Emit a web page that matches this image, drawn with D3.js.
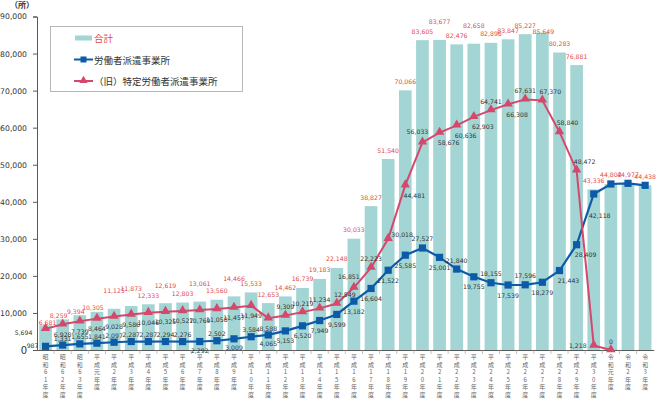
<!DOCTYPE html>
<html>
<head>
<meta charset="utf-8">
<script src="https://cdn.jsdelivr.net/npm/d3@7.9.0/dist/d3.min.js"></script>
<style>
  body { margin: 0; background: #fff; }
  svg { display: block; }
  .num { font-family: "DejaVu Sans", sans-serif; }
  .jp { font-family: "Noto Sans CJK JP", sans-serif; }
</style>
</head>
<body>
<div id="chart"></div>
<script>
const years = [
  '昭和61年度', '昭和62年度', '昭和63年度',
  '平成元年度', '平成2年度', '平成3年度', '平成4年度', '平成5年度', '平成6年度',
  '平成7年度', '平成8年度', '平成9年度', '平成10年度', '平成11年度', '平成12年度',
  '平成13年度', '平成14年度', '平成15年度', '平成16年度', '平成17年度', '平成18年度',
  '平成19年度', '平成20年度', '平成21年度', '平成22年度', '平成23年度', '平成24年度',
  '平成25年度', '平成26年度', '平成27年度', '平成28年度', '平成29年度', '平成30年度',
  '令和元年度', '令和2年度', '令和3年度'
];

// 合計
const totals = [
  6681, 8259, 9394, 10305, 11125, 11873, 12333, 12619, 12803, 13061, 13560, 14466,
  15533, 12653, 14462, 16739, 19183, 22148, 30033, 38827, 51540, 70066, 83605, 83677,
  82476, 82658, 82896, 83847, 85227, 85649, 80283, 76881, 43336, 44802, 44977, 44438
];

// 労働者派遣事業所
const haken = [
  987, 1331, 1655, 1841, 2097, 2287, 2287, 2294, 2276, 2292, 2502, 3009,
  3584, 4065, 5153, 6520, 7949, 9599, 13182, 16604, 21522, 25585, 27527, 25001,
  21840, 19755, 18155, 17539, 17596, 18279, 21443, 28409, 42118, 44802, 44977, 44438
];

// （旧）特定労働者派遣事業所
const tokutei = [
  5694, 6928, 7739, 8464, 9028, 9586, 10046, 10325, 10527, 10769, 11058, 11457,
  11949, 8588, 9309, 10219, 11234, 12549, 16851, 22223, 30018, 44481, 56033, 58676,
  60636, 62903, 64741, 66308, 67631, 67370, 58840, 48472, 1218, 0, null, null
];

const yTicks = [0, 10000, 20000, 30000, 40000, 50000, 60000, 70000, 80000, 90000];

const W = 660, H = 399;
const barColor = '#a2d5d4';
const blue = '#0d5ba8';
const pink = '#d4486c';
const red = '#e24a4a';
const ink = '#333';

const svg = d3.select('#chart').append('svg')
  .attr('width', W).attr('height', H);

const x = d3.scaleBand().domain(years).range([37, 653.7]).paddingInner(0.26).paddingOuter(0.13);
const y = d3.scaleLinear().domain([0, 90000]).range([350, 16.5]);
const cx = i => x(years[i]) + x.bandwidth() / 2;

// bars
svg.append('g').selectAll('rect')
  .data(totals)
  .join('rect')
  .attr('x', (d, i) => x(years[i]))
  .attr('y', d => y(d))
  .attr('width', x.bandwidth())
  .attr('height', d => y(0) - y(d))
  .attr('fill', barColor);

// y axis
const yAxis = svg.append('g')
  .attr('transform', 'translate(37,0)')
  .call(d3.axisLeft(y).tickValues(yTicks).tickSize(4).tickPadding(6).tickFormat(d3.format(',')));
yAxis.select('.domain').attr('stroke', '#595959');
yAxis.selectAll('.tick line').attr('stroke', '#595959');
yAxis.selectAll('.tick text')
  .attr('class', 'num')
  .attr('fill', ink)
  .style('font-size', d => d === 0 ? '10px' : '7.7px');

svg.append('text')
  .attr('class', 'jp')
  .attr('x', 22).attr('y', 8)
  .attr('text-anchor', 'middle')
  .attr('font-size', 8).attr('font-weight', 'bold').attr('fill', ink)
  .text('（所）');

// x axis
const xAxis = svg.append('g')
  .attr('transform', `translate(0,${y(0)})`)
  .call(d3.axisBottom(x).tickSize(0).tickFormat(''));
xAxis.select('.domain').attr('stroke', '#595959');

svg.append('g').selectAll('line')
  .data(years.slice(1))
  .join('line')
  .attr('x1', d => x(d) - x.step() * x.paddingInner() / 2)
  .attr('x2', d => x(d) - x.step() * x.paddingInner() / 2)
  .attr('y1', y(0)).attr('y2', y(0) + 4)
  .attr('stroke', '#999').attr('stroke-width', 0.6);

const xl = svg.append('g').selectAll('text')
  .data(years)
  .join('text')
  .attr('class', 'jp')
  .attr('text-anchor', 'middle')
  .attr('font-size', 6)
  .attr('fill', '#666');
xl.selectAll('tspan')
  .data((d, i) => Array.from(d).map(c => ({ c, i })))
  .join('tspan')
  .attr('x', d => cx(d.i))
  .attr('y', (d, k) => 359 + k * 7.5)
  .text(d => d.c);

// lines
const line = d3.line()
  .defined(d => d[1] != null)
  .x(d => cx(d[0]))
  .y(d => y(d[1]));

svg.append('path')
  .datum(haken.map((v, i) => [i, v]))
  .attr('d', line)
  .attr('fill', 'none')
  .attr('stroke', blue)
  .attr('stroke-width', 2.2);

svg.append('path')
  .datum(tokutei.map((v, i) => [i, v]))
  .attr('d', line)
  .attr('fill', 'none')
  .attr('stroke', pink)
  .attr('stroke-width', 2);

svg.append('g').selectAll('rect')
  .data(haken)
  .join('rect')
  .attr('x', (d, i) => cx(i) - 3.6)
  .attr('y', d => y(d) - 3.6)
  .attr('width', 7.2).attr('height', 7.2)
  .attr('fill', blue);

const tri = d3.symbol().type(d3.symbolTriangle).size(38);
svg.append('g').selectAll('path')
  .data(tokutei.map((v, i) => [i, v]).filter(d => d[1] != null))
  .join('path')
  .attr('transform', d => `translate(${cx(d[0])},${y(d[1]) - 0.5})`)
  .attr('d', tri)
  .attr('fill', pink);

// label placement codes
const off = {
  a: [0, -9], a7: [0, -7], b: [0, 10], b9: [0, 9], l: [-16, 0], l0: [-13, -1], ll: [-22, 4],
  r: [14, -4], ar: [8, -9], al: [-5, -11], br: [9, 10], bb: [6, 22], hi: [0, -18], lo: [1, -1],
  tl: [2, -3], sl: [-4, -4]
};
const totalPos = totals.map((d, i) => {
  if (i === 0) return 'tl';
  if (i <= 3) return 'sl';
  if ([4, 5, 7, 9, 11, 23, 25].includes(i)) return 'hi';
  if (i === 29) return 'lo';
  return 'a';
});
const hakenPos = haken.map((d, i) => {
  if (i >= 33) return null;
  if (i === 0) return 'l0';
  if (i === 32) return 'bb';
  if ([22, 24, 26, 28].includes(i)) return 'a';
  if (i >= 30) return 'br';
  if (i === 9 || i === 11 || i === 13) return 'b9';
  if (i >= 14) return 'b';
  return 'a7';
});
const tokuteiPos = [
  'll', 'b', 'b', 'b', 'b', 'b', 'b', 'b', 'b', 'b', 'b', 'b', 'b', 'b', 'a', 'a', 'a', 'ar',
  'al', 'a', 'r', 'br', 'al', 'br', 'br', 'br', 'a', 'br', 'a', 'ar', 'ar', 'ar', 'l', 'a',
  null, null
];

function labels(values, pos, color) {
  svg.append('g').selectAll('text')
    .data(values.map((v, i) => ({ v, i, p: pos[i] })).filter(d => d.v != null && d.p))
    .join('text')
    .attr('class', 'num')
    .attr('x', d => cx(d.i) + off[d.p][0])
    .attr('y', d => y(d.v) + off[d.p][1])
    .attr('text-anchor', 'middle')
    .attr('dominant-baseline', 'central')
    .attr('font-size', 6.2)
    .attr('fill', color)
    .text(d => d3.format(',')(d.v));
}
labels(totals, totalPos, red);
labels(haken, hakenPos, ink);
labels(tokutei, tokuteiPos, ink);

// legend
const lg = svg.append('g');
lg.append('rect')
  .attr('x', 50.5).attr('y', 26.5).attr('width', 192).attr('height', 65)
  .attr('fill', '#fff').attr('stroke', '#a6a6a6').attr('stroke-width', 0.8);
const items = [
  { name: '合計', color: red },
  { name: '労働者派遣事業所', color: ink },
  { name: '（旧）特定労働者派遣事業所', color: ink }
];
items.forEach((it, k) => {
  const ly = 38 + k * 21.5;
  if (k === 0) {
    lg.append('rect').attr('x', 75).attr('y', ly - 2.5).attr('width', 17).attr('height', 5).attr('fill', barColor);
  } else {
    const c = k === 1 ? blue : pink;
    lg.append('line').attr('x1', 74).attr('x2', 93).attr('y1', ly).attr('y2', ly)
      .attr('stroke', c).attr('stroke-width', 2);
    if (k === 1) {
      lg.append('rect').attr('x', 80.5).attr('y', ly - 3).attr('width', 6).attr('height', 6).attr('fill', c);
    } else {
      lg.append('path').attr('transform', `translate(83.5,${ly - 0.5})`)
        .attr('d', d3.symbol().type(d3.symbolTriangle).size(30)).attr('fill', c);
    }
  }
  lg.append('text')
    .attr('class', 'jp')
    .attr('x', 94).attr('y', ly)
    .attr('dominant-baseline', 'central')
    .attr('font-size', 9.5)
    .attr('fill', it.color)
    .text(it.name);
});
</script>
</body>
</html>
